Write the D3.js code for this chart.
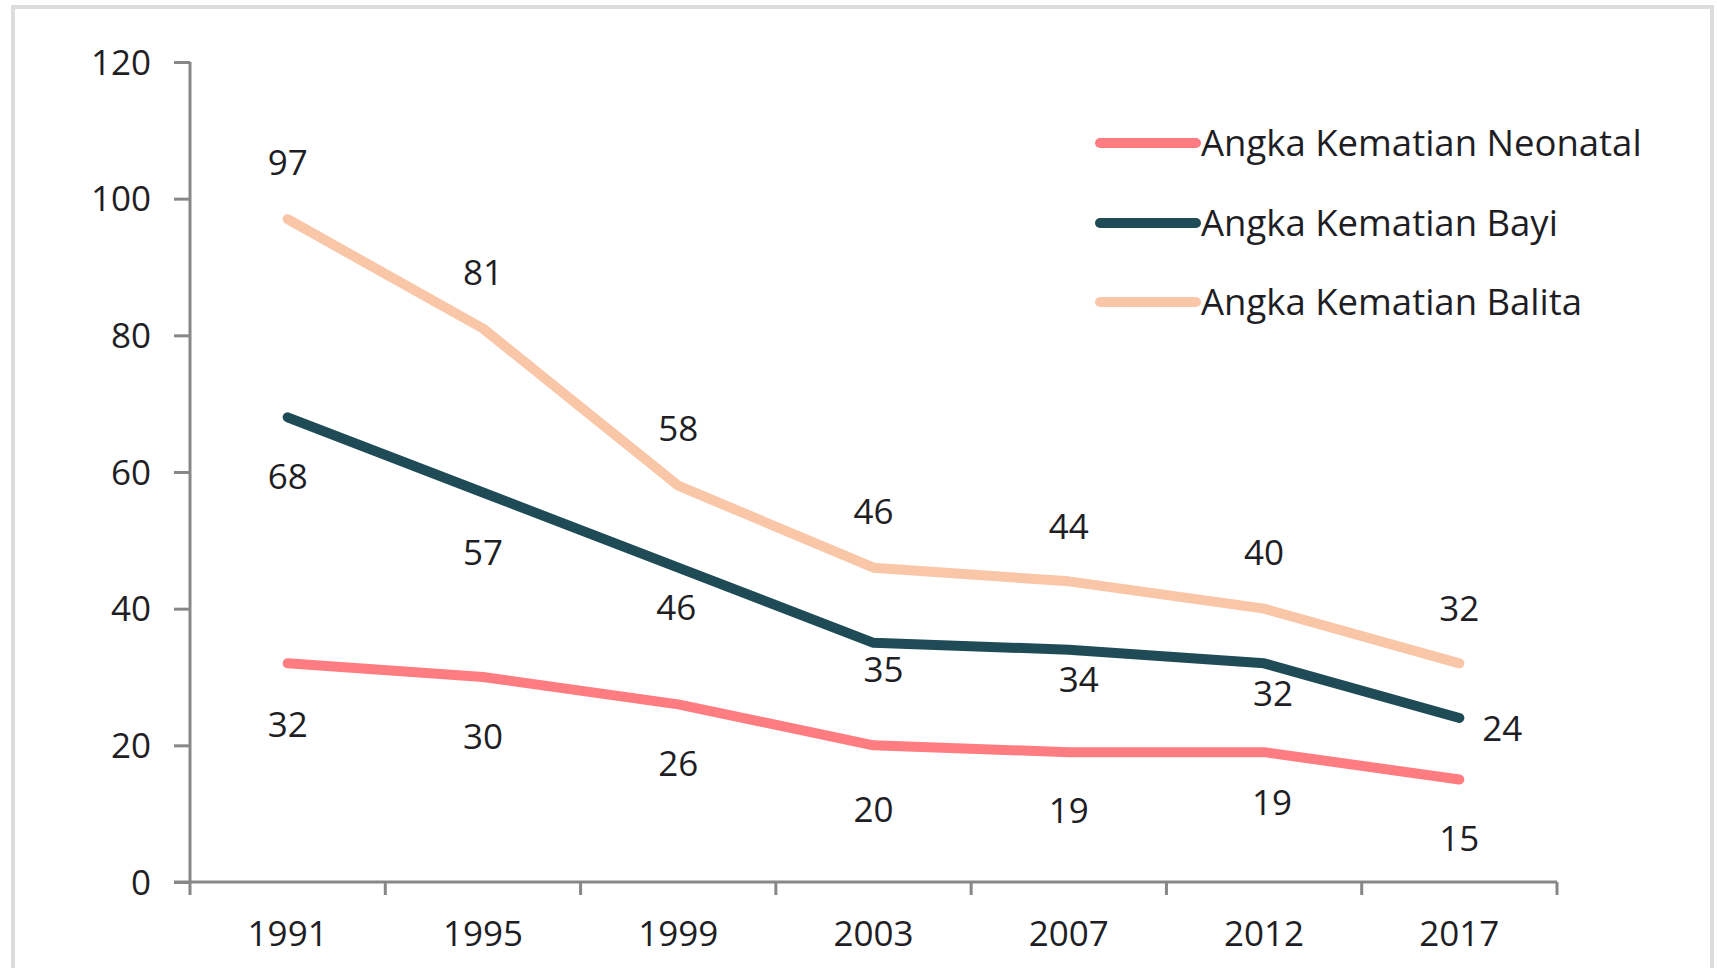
<!DOCTYPE html>
<html>
<head>
<meta charset="utf-8">
<script src="https://cdn.jsdelivr.net/npm/d3@7/dist/d3.min.js"></script>
<style>
  html, body { margin: 0; padding: 0; background: #ffffff; }
  svg { display: block; }
  text { font-family: "Open Sans", "Noto Sans", sans-serif; fill: #1e1e24; }
</style>
</head>
<body>
<svg id="chart" width="1717" height="968"></svg>
<script>
// ---- Data ----
const years = ["1991", "1995", "1999", "2003", "2007", "2012", "2017"];
const neonatal = [32, 30, 26, 20, 19, 19, 15];
const bayi = [68, 57, 46, 35, 34, 32, 24];
const balita = [97, 81, 58, 46, 44, 40, 32];
const seriesNames = ["Angka Kematian Neonatal", "Angka Kematian Bayi", "Angka Kematian Balita"];
const yTicks = [0, 20, 40, 60, 80, 100, 120];

// ---- Label placement (pixel offsets, style only) ----
const neoLabelDx = [0, 0, 0, 0, 0, 8, 0];
const neoLabelDy = [61, 60, 59, 64, 59, 51, 59];
const bayiLabelDx = [0, 0, -2, 10, 10, 9, 43];
const bayiLabelDy = [59, 60, 40, 27, 30, 30, 11];
const balLabelDx = [0, 0, 0, 0, 0, 0, 0];
const balLabelDy = [-56, -56, -57, -56, -55, -56, -55];

const colors = ["#FF7C80", "#1F4B57", "#F9C6A8"];

const svg = d3.select("#chart");

// outer frame
svg.append("rect")
  .attr("x", 13).attr("y", 7)
  .attr("width", 1699).attr("height", 1000)
  .attr("fill", "none").attr("stroke", "#dcdcdc").attr("stroke-width", 4);

const x0 = 190, x1 = 1557, yTop = 62, yBot = 882;
const x = d3.scaleBand().domain(years).range([x0, x1]).paddingInner(0).paddingOuter(0);
const y = d3.scaleLinear().domain([0, 120]).range([yBot, yTop]);
const cx = d => x(d) + x.bandwidth() / 2;

const axisColor = "#878787";
const fs = 35;

// Y axis
const yAxis = svg.append("g").attr("transform", `translate(${x0},0)`)
  .call(d3.axisLeft(y).tickValues(yTicks).tickSize(16).tickPadding(23).tickFormat(d3.format("d")));
yAxis.select(".domain").attr("stroke", axisColor).attr("stroke-width", 3)
  .attr("d", `M0,${yTop}V${yBot}`);
yAxis.selectAll(".tick line").attr("stroke", axisColor).attr("stroke-width", 3);
yAxis.selectAll(".tick text").attr("font-size", fs).attr("fill", "#1e1e24")
  .attr("font-family", "Open Sans").attr("dy", "0.35em");

// X axis
const xAxis = svg.append("g").attr("transform", `translate(0,${yBot})`)
  .call(d3.axisBottom(x).tickSize(0).tickPadding(39));
xAxis.select(".domain").attr("stroke", axisColor).attr("stroke-width", 3)
  .attr("d", `M${x0 - 16},0H${x1}`);
xAxis.selectAll(".tick text").attr("font-size", fs).attr("fill", "#1e1e24")
  .attr("font-family", "Open Sans");
// boundary ticks
const bounds = years.map(d => x(d)).concat([x1]);
svg.append("g").selectAll("line").data(bounds).join("line")
  .attr("x1", d => d).attr("x2", d => d)
  .attr("y1", yBot).attr("y2", yBot + 13)
  .attr("stroke", axisColor).attr("stroke-width", 3);

// Lines
const allSeries = [neonatal, bayi, balita];
const line = d3.line().x((d, i) => cx(years[i])).y(d => y(d));
const order = [2, 1, 0];
order.forEach(k => {
  svg.append("path")
    .attr("d", line(allSeries[k]))
    .attr("fill", "none")
    .attr("stroke", colors[k])
    .attr("stroke-width", 10)
    .attr("stroke-linecap", "round")
    .attr("stroke-linejoin", "round");
});

// Data labels
const labelSets = [
  [neonatal, neoLabelDx, neoLabelDy],
  [bayi, bayiLabelDx, bayiLabelDy],
  [balita, balLabelDx, balLabelDy]
];
labelSets.forEach(([vals, dxs, dys]) => {
  svg.append("g").selectAll("text").data(vals).join("text")
    .attr("x", (d, i) => cx(years[i]) + dxs[i])
    .attr("y", (d, i) => y(d) + dys[i])
    .attr("text-anchor", "middle")
    .attr("dy", "0.35em")
    .attr("font-size", fs)
    .text(d => d);
});

// Legend
const legY = [143, 223, 302];
const leg = svg.append("g");
seriesNames.forEach((name, i) => {
  leg.append("line")
    .attr("x1", 1100).attr("x2", 1196)
    .attr("y1", legY[i]).attr("y2", legY[i])
    .attr("stroke", colors[i]).attr("stroke-width", 10)
    .attr("stroke-linecap", "round");
  leg.append("text")
    .attr("x", 1201).attr("y", legY[i])
    .attr("dy", "0.35em")
    .attr("font-size", 36.5)
    .text(name);
});
</script>
</body>
</html>
